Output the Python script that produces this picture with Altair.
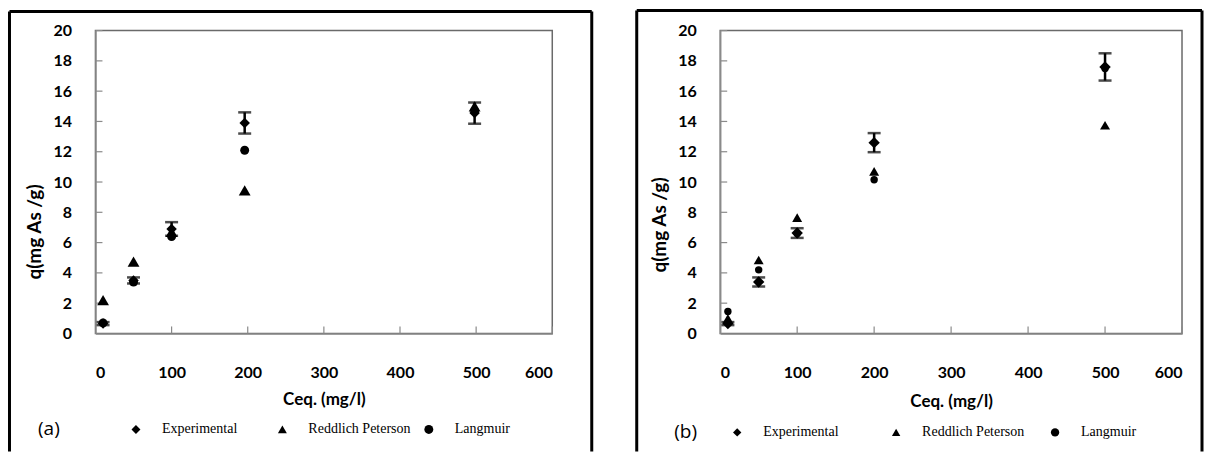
import altair as alt
import pandas as pd

# ---------------- data ----------------
series = ["Experimental", "Reddlich Peterson", "Langmuir"]
shapes = ["diamond", "triangle-up", "circle"]

x_ticks = [0, 100, 200, 300, 400, 500, 600]
y_ticks = [0, 2, 4, 6, 8, 10, 12, 14, 16, 18, 20]

# panel (a)
ceq_a = [10, 50, 100, 196, 498]
exp_a = [0.65, 3.5, 6.9, 13.9, 14.55]
err_a = [0.1, 0.2, 0.45, 0.7, 0.7]
rp_a = [2.2, 4.75, 6.7, 9.45, 15.0]
lang_a = [0.7, 3.4, 6.4, 12.1, 14.7]

# panel (b)
ceq_b = [10, 50, 100, 200, 500]
exp_b = [0.65, 3.4, 6.63, 12.6, 17.6]
err_b = [0.1, 0.3, 0.32, 0.63, 0.9]
rp_b = [1.0, 4.85, 7.65, 10.7, 13.75]
lang_b = [1.45, 4.2, 6.6, 10.15, 17.5]

SANS = "Lato"
SERIF = "Liberation Serif"


def panel(ceq, exp, err, rp, lang, tag, width, height, sizes, leg, xtitle_pad, ytitle_y, frame):
    ebar = pd.DataFrame({
        "x": ceq,
        "lo": [e - d for e, d in zip(exp, err)],
        "hi": [e + d for e, d in zip(exp, err)],
    })
    ytk = pd.DataFrame({"y": y_ticks[1:]})
    xtk = pd.DataFrame({"x": x_ticks[1:]})
    one = pd.DataFrame({"a": [0]})

    xscale = alt.Scale(domain=[0, 600], nice=False, zero=False)
    yscale = alt.Scale(domain=[0, 20], nice=False, zero=False)
    xaxis = alt.Axis(values=x_ticks, ticks=False, grid=False, labelPadding=31,
                     title="Ceq. (mg/l)", titlePadding=xtitle_pad)
    yaxis = alt.Axis(values=y_ticks, ticks=False, grid=False, labelPadding=24,
                     title="q(mg As /g)", titlePadding=8, titleY=ytitle_y,
                     titleFontSize=19)

    def X(f="x"):
        return alt.X(f"{f}:Q", scale=xscale, axis=xaxis)

    def Y(f="y"):
        return alt.Y(f"{f}:Q", scale=yscale, axis=yaxis)

    legend = alt.Legend(
        title=tag, titleOrient="left", orient="none",
        legendX=leg["x"], legendY=leg["y"],
        direction="horizontal", columns=3, gridAlign="all",
        columnPadding=leg["colpad"], padding=0,
        titleFont="Open Sans", titleFontSize=19, titleFontWeight="normal",
        titleColor="black", titlePadding=leg["tpad"],
        labelFont=SERIF, labelFontSize=14, labelColor="black",
        labelOffset=19, symbolSize=leg["sym"],
        symbolFillColor="black", symbolStrokeColor="black",
        symbolStrokeWidth=0)
    shape_scale = alt.Scale(domain=series, range=shapes)

    def pts_layer(vals, name, size):
        df = pd.DataFrame({"x": ceq, "y": vals, "series": [name] * len(ceq)})
        return alt.Chart(df).mark_point(filled=True, opacity=1, size=size, color="black").encode(
            x=X(), y=Y(),
            shape=alt.Shape("series:N", scale=shape_scale, legend=legend),
        )

    p_lang = pts_layer(lang, series[2], sizes[2])
    p_rp = pts_layer(rp, series[1], sizes[1])
    p_exp = pts_layer(exp, series[0], sizes[0])

    bar = alt.Chart(ebar).mark_rule(color="black", strokeWidth=2.5).encode(
        x=X(), y=Y("lo"), y2="hi:Q")
    cap_lo = alt.Chart(ebar).mark_tick(color="black", thickness=2.5, size=13,
                                       orient="horizontal").encode(x=X(), y=Y("lo"))
    cap_hi = alt.Chart(ebar).mark_tick(color="black", thickness=2.5, size=13,
                                       orient="horizontal").encode(x=X(), y=Y("hi"))
    ytick_rules = alt.Chart(ytk).mark_rule(color="#8a8a8a", strokeWidth=1.2).encode(
        y=Y(), x=alt.value(0), x2=alt.value(7))
    xtick_rules = alt.Chart(xtk).mark_rule(color="#8a8a8a", strokeWidth=1.2).encode(
        x=X(), y=alt.value(height), y2=alt.value(height - 7))

    fl, fr, ft, fb = frame
    f_top = alt.Chart(one).mark_rule(color="black", strokeWidth=3).encode(
        x=alt.value(fl), x2=alt.value(fr), y=alt.value(ft))
    f_left = alt.Chart(one).mark_rule(color="black", strokeWidth=3).encode(
        x=alt.value(fl), y=alt.value(ft), y2=alt.value(fb))
    f_right = alt.Chart(one).mark_rule(color="black", strokeWidth=3).encode(
        x=alt.value(fr), y=alt.value(ft), y2=alt.value(fb))

    return alt.layer(
        ytick_rules, xtick_rules, bar, cap_lo, cap_hi, p_lang, p_rp, p_exp,
        f_top, f_left, f_right
    ).properties(width=width, height=height)


H = 303
pa = panel(ceq_a, exp_a, err_a, rp_a, lang_a, "(a)", 457, H,
           [110, 140, 80],
           {"x": -57.5, "y": 392, "colpad": 10.5, "tpad": 69, "sym": 80},
           11, 201, (-86, 496.5, -19, 421))
pb = panel(ceq_b, exp_b, err_b, rp_b, lang_b, "(b)", 462, H,
           [130, 100, 55],
           {"x": -46, "y": 395, "colpad": 23, "tpad": 33, "sym": 70},
           13, 194, (-83.5, 482, -20, 421))

chart = alt.hconcat(pa, pb, spacing=168, bounds="flush").resolve_scale(
    x="independent", y="independent", shape="independent"
).resolve_legend(shape="independent").properties(
    padding={"left": 6.5, "top": 7.5, "right": 0, "bottom": 0},
    background="white",
).configure_view(
    stroke="#6a6a6a", strokeWidth=1.5
).configure_axis(
    labelFont=SANS, labelFontSize=16, labelFontWeight="bold", labelColor="black",
    titleFont=SANS, titleFontSize=17, titleFontWeight="bold", titleColor="black",
    domainColor="#8a8a8a", domainWidth=1.5,
)

chart.save("out.html", embed_options={"renderer": "svg", "actions": False})
